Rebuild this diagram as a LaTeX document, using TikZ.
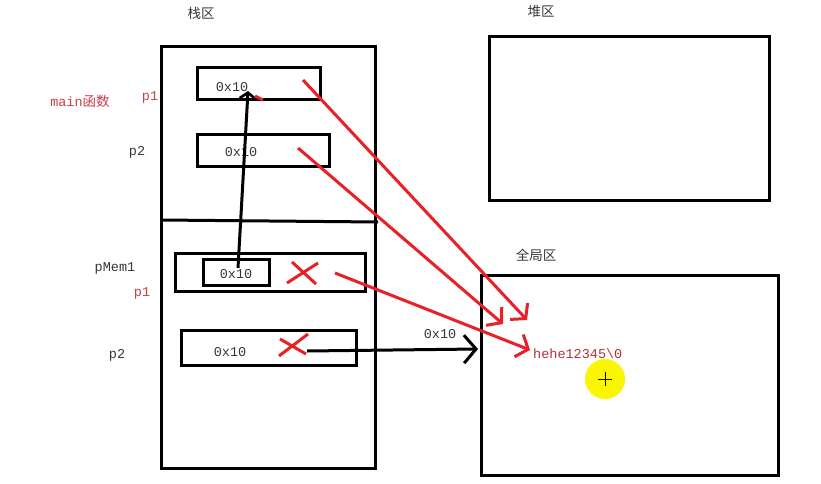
\documentclass[tikz,border=0pt]{standalone}
\usepackage{fontspec}
\setmainfont{Liberation Serif}
\setmonofont{Liberation Mono}
\newfontfamily\cjk{Noto Sans CJK SC}
\usetikzlibrary{arrows.meta}
\definecolor{rd}{RGB}{232,32,40}
\definecolor{txtred}{RGB}{205,60,70}
\definecolor{txtgray}{RGB}{55,55,55}
\definecolor{yel}{RGB}{250,245,0}
\begin{document}
\begin{tikzpicture}[x=1pt,y=-1pt,
  box/.style={draw=black,line width=3pt},
  val/.style={font=\ttfamily\fontsize{13.5}{13.5}\selectfont,text=txtgray,inner sep=0pt},
  lbl/.style={font=\ttfamily\fontsize{13.5}{13.5}\selectfont,inner sep=0pt},
  title/.style={font=\cjk\fontsize{13.5}{13.5}\selectfont,text=txtgray,inner sep=0pt},
  redline/.style={draw=rd,line width=3pt},
  redarrow/.style={redline,-{Straight Barb[length=10pt,width=24pt,line width=3pt]}},
  blkarrow/.style={draw=black,line width=3pt,-{Straight Barb[length=12pt,width=28pt,line width=3pt]}}
]
\useasboundingbox (0,0) rectangle (821,484);
\fill[white] (0,0) rectangle (821,484);

% regions
\draw[box] (161,47) rectangle (375,468);
\draw[box] (161,220) -- (378,222);
\draw[box] (489,37) rectangle (769,200);
\draw[box] (481,275) rectangle (778,475);
\node[title] (tstack) at (201,13) {栈区};
\node[title] (theap) at (541,11) {堆区};
\node[title] (tglob) at (536,255) {全局区};

% stack frame main
\draw[box] (197,68) rectangle (320,100);
\node[val] (v1) at (232,87) {0x10};
\draw[box] (197,134) rectangle (329,166);
\node[val] (v2) at (241,152) {0x10};
\node[lbl,text=txtred] (mainf) at (80,101) {main\cjk 函数};
\node[lbl,text=txtred] (lp1) at (150,97) {p1};
\node[lbl,text=txtgray] (lp2) at (137,152) {p2};

% lower frame
\draw[box] (175,253) rectangle (365,291);
\draw[box] (203,259) rectangle (269,285);
\node[val] (v3) at (236,274) {0x10};
\draw[box] (181,330) rectangle (356,365);
\node[val] (v4) at (230,352) {0x10};
\node[lbl,text=txtgray] (lpm) at (115,268) {pMem1};
\node[lbl,text=txtred] (lp1b) at (142,293) {p1};
\node[lbl,text=txtgray] (lp2b) at (117,355) {p2};

% global string
\node[lbl,text=txtred!85!black,anchor=west] (str) at (533,354) {hehe12345\textbackslash 0};
\node[lbl,text=txtgray] (ox) at (440,334) {0x10};

% coordinates
\coordinate (a1s) at (238,268);
\coordinate (a1e) at (248,91);
\coordinate (r1s) at (303,80);
\coordinate (r1e) at (527,320);
\coordinate (r2s) at (298,148);
\coordinate (r2e) at (503,324);
\coordinate (r3s) at (335,273);
\coordinate (r3e) at (530,350);
\coordinate (bs) at (307,351);
\coordinate (be) at (478,349);

% black arrow up
\draw[draw=black,line width=3pt,-{Straight Barb[length=6pt,width=16pt,line width=2.6pt]}] (a1s) -- (a1e);
\draw[redline] (255,96) -- (263,100);

% red arrows
\draw[redarrow] (r1s) -- (r1e);
\draw[redarrow] (r2s) -- (r2e);
\draw[redarrow] (r3s) -- (r3e);

% black arrow to global
\draw[blkarrow] (bs) -- (be);

% red crosses
\draw[redline] (287,283) -- (318,263);
\draw[redline] (292,262) -- (316,284);
\draw[redline] (279,356) -- (308,334);
\draw[redline] (280,339) -- (306,354);

% cursor highlight
\fill[yel] (605,379) circle (20);
\draw[black,line width=0.8pt] (598,379) -- (612,379) (605,372) -- (605,386);
\end{tikzpicture}
\end{document}
